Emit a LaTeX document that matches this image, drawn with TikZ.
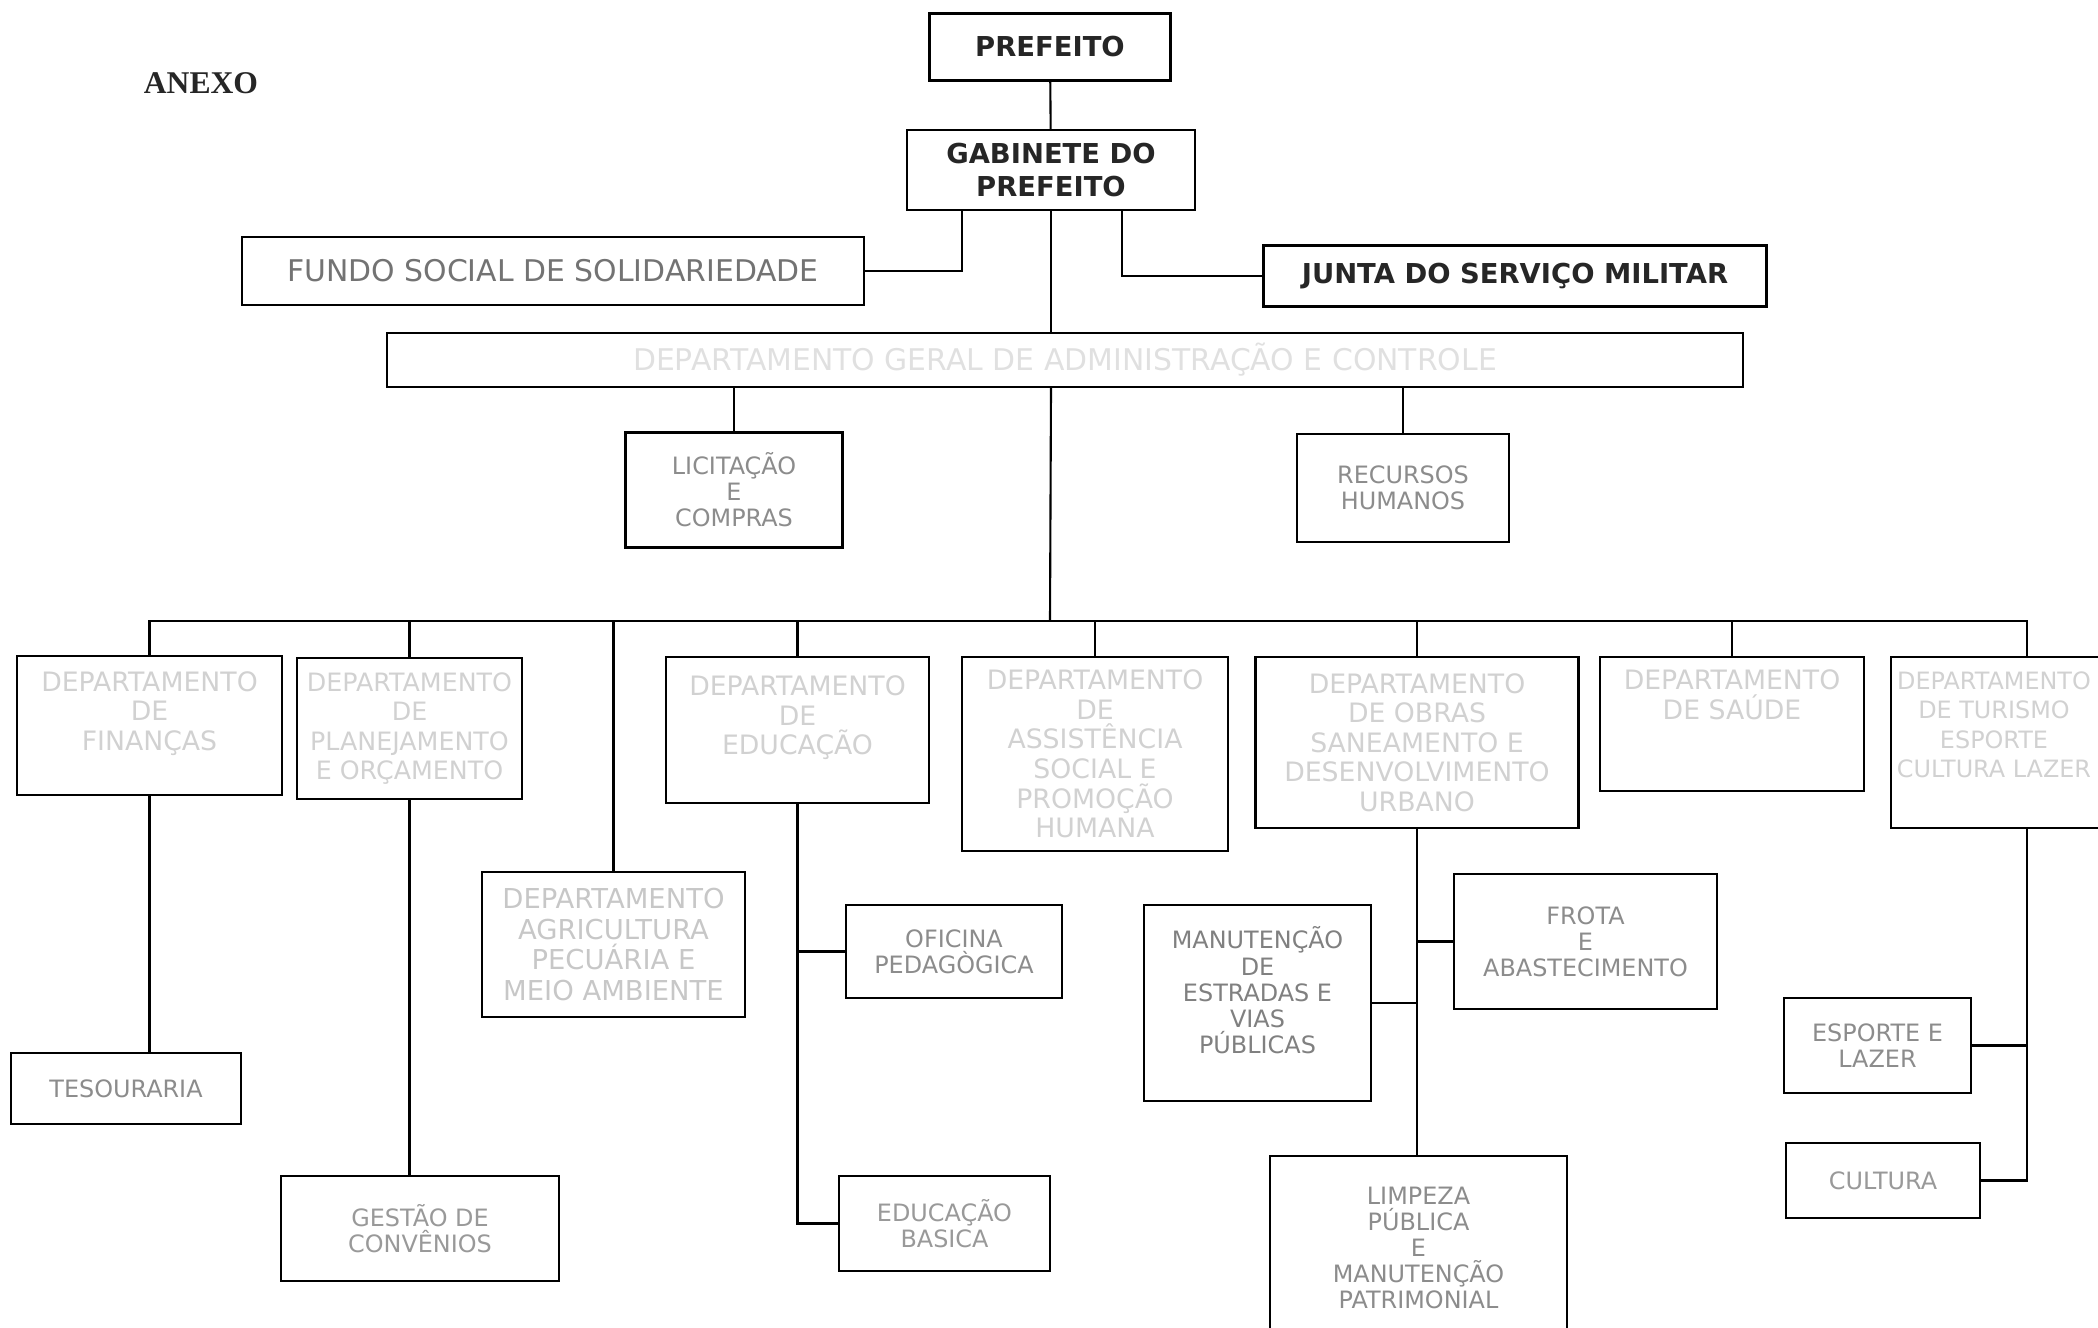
\documentclass[tikz,border=0pt]{standalone}
\usepackage{fontspec}
\newfontfamily\orgfont{DejaVu Sans}
\newfontfamily\anexofont{Liberation Serif}
\usepackage{tikz}

\begin{document}
\begin{tikzpicture}[
		caixa/.style={draw, line width=0.6pt, inner sep=0pt, align=center, text=black!45, font=\orgfont\fontsize{6.8}{7.4}\selectfont},
		chefe/.style={caixa, text=black!85, font=\orgfont\bfseries\fontsize{7.8}{9.5}\selectfont},
		depto/.style={caixa, text=black!18, font=\orgfont\fontsize{7.6}{8.4}\selectfont},
		liga/.style={line width=0.6pt}
	]
			\useasboundingbox (0,0) rectangle (20.98,-13.28);
			\clip (0,0) rectangle (20.98,-13.28);

			\node[font=\anexofont\bfseries\fontsize{9}{10}\selectfont, text=black!85] (anexo) at (2.01,-0.83) {ANEXO};

			\node[chefe, minimum width=2.41cm, minimum height=0.67cm] (pref) at (10.50,-0.47) {PREFEITO};
			\node[chefe, minimum width=2.88cm, minimum height=0.80cm] (gab) at (10.51,-1.70) {GABINETE DO\\PREFEITO};
			\node[caixa, text=black!55, font=\orgfont\fontsize{8.5}{9}\selectfont, minimum width=6.22cm, minimum height=0.68cm] (fundo) at (5.53,-2.71) {FUNDO SOCIAL DE SOLIDARIEDADE};
			\node[chefe, minimum width=5.03cm, minimum height=0.61cm] (junta) at (15.15,-2.76) {JUNTA DO SERVIÇO MILITAR};
			\node[caixa, text=black!12, font=\orgfont\fontsize{8.5}{9}\selectfont, minimum width=13.56cm, minimum height=0.54cm] (geral) at (10.65,-3.60) {DEPARTAMENTO GERAL DE ADMINISTRAÇÃO E CONTROLE};

			\node[caixa, minimum width=2.17cm, minimum height=1.15cm] (lic) at (7.34,-4.90) {LICITAÇÃO\\E\\COMPRAS};
			\node[caixa, minimum width=2.12cm, minimum height=1.08cm] (rec) at (14.03,-4.88) {RECURSOS\\HUMANOS};

			\coordinate (bus) at (10.50,-6.21);

			% departamentos
			\node[depto, minimum width=2.65cm, minimum height=1.39cm] (fin) at (1.495,-7.255) {DEPARTAMENTO\\DE\\FINANÇAS\\~};
			\node[depto, font=\orgfont\fontsize{7.2}{8.4}\selectfont, minimum width=2.25cm, minimum height=1.41cm] (plan) at (4.095,-7.285) {DEPARTAMENTO\\DE\\PLANEJAMENTO\\E ORÇAMENTO};
			\node[depto, minimum width=2.63cm, minimum height=1.46cm] (edu) at (7.975,-7.30) {DEPARTAMENTO\\DE\\EDUCAÇÃO\\~};
			\node[depto, minimum width=2.66cm, minimum height=1.94cm] (ass) at (10.95,-7.54) {DEPARTAMENTO\\DE\\ASSISTÊNCIA\\SOCIAL E\\PROMOÇÃO\\HUMANA};
			\node[depto, minimum width=3.23cm, minimum height=1.71cm] (obr) at (14.17,-7.425) {DEPARTAMENTO\\DE OBRAS\\SANEAMENTO E\\DESENVOLVIMENTO\\URBANO};
			\node[depto, minimum width=2.64cm, minimum height=1.34cm] (sau) at (17.32,-7.24) {DEPARTAMENTO\\DE SAÚDE\\~\\~};
			\node[depto, font=\orgfont\fontsize{6.8}{8.4}\selectfont, minimum width=2.72cm, minimum height=1.71cm] (tur) at (20.27,-7.425) {\begin{tabular}{@{}c@{}}DEPARTAMENTO\\DE TURISMO\\ESPORTE\\CULTURA LAZER\\~\end{tabular}\hspace{0.66cm}};
			\node[depto, text=black!22, font=\orgfont\fontsize{7.8}{8.8}\selectfont, minimum width=2.63cm, minimum height=1.45cm] (agr) at (6.135,-9.445) {DEPARTAMENTO\\AGRICULTURA\\PECUÁRIA E\\MEIO AMBIENTE};

			% setores
			\node[caixa, minimum width=2.30cm, minimum height=0.71cm] (tes) at (1.26,-10.885) {TESOURARIA};
			\node[caixa, text=black!40, minimum width=2.78cm, minimum height=1.05cm] (gest) at (4.20,-12.285) {GESTÃO DE\\CONVÊNIOS};
			\node[caixa, minimum width=2.16cm, minimum height=0.93cm] (ofi) at (9.54,-9.515) {OFICINA\\PEDAGÒGICA};
			\node[caixa, text=black!40, minimum width=2.11cm, minimum height=0.95cm] (bas) at (9.445,-12.235) {EDUCAÇÃO\\BASICA};
			\node[caixa, text=black!50, minimum width=2.27cm, minimum height=1.96cm] (man) at (12.575,-10.03) {MANUTENÇÃO\\DE\\ESTRADAS E\\VIAS\\PÚBLICAS\\~};
			\node[caixa, minimum width=2.63cm, minimum height=1.35cm] (frota) at (15.855,-9.415) {FROTA\\E\\ABASTECIMENTO};
			\node[caixa, minimum width=2.97cm, minimum height=1.84cm] (limp) at (14.185,-12.48) {LIMPEZA\\PÚBLICA\\E\\MANUTENÇÃO\\PATRIMONIAL};
			\node[caixa, minimum width=1.87cm, minimum height=0.95cm] (esp) at (18.775,-10.455) {ESPORTE E\\LAZER};
			\node[caixa, text=black!40, minimum width=1.94cm, minimum height=0.75cm] (cul) at (18.83,-11.805) {CULTURA};

			\draw[liga] (pref) -- (gab);
			\draw[liga] (gab.south) -- (gab.south |- geral.north);
			\draw[liga] (gab.south |- geral.south) -- (bus);
			\draw[liga] ([xshift=0.56cm]gab.south west) |- (fundo.east);
			\draw[liga] ([xshift=-0.74cm]gab.south east) |- (junta.west);

			\draw[liga] (lic.north) -- (lic.north |- geral.south);
			\draw[liga] (rec.north) -- (rec.north |- geral.south);

			\foreach \d in {fin,plan,edu,ass,obr,sau,tur,agr}
			\draw[liga] (\d.north) |- (bus);

			\draw[liga] (fin.south) -- (fin.south |- tes.north);
			\draw[liga] (plan.south) -- (plan.south |- gest.north);
			\draw[liga] (edu.south) |- (ofi.west);
			\draw[liga] (edu.south) |- (bas.west);
			\draw[liga] (obr.south) -- (obr.south |- limp.north);
			\draw[liga] (man.east) -| (obr.south);
			\draw[liga] (frota.west) -| (obr.south);
			\draw[liga] (tur.south) |- (esp.east);
			\draw[liga] (tur.south) |- (cul.east);
		\end{tikzpicture}
\end{document}
